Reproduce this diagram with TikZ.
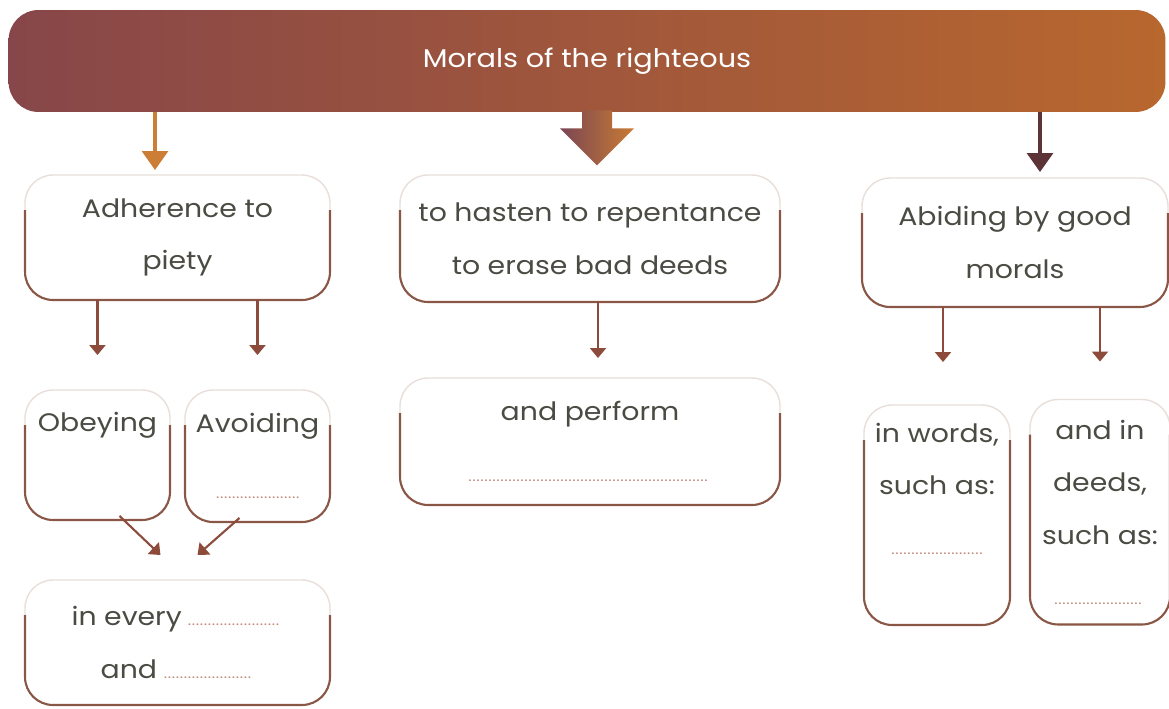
\documentclass[tikz,border=0pt]{standalone}
\usepackage{fontspec}
\setmainfont[FakeStretch=1.12]{Poppins}
\usetikzlibrary{calc,arrows.meta,positioning}

\definecolor{hdL}{HTML}{874649}
\definecolor{hdR}{HTML}{B8672E}
\definecolor{txt}{HTML}{4B4B43}
\definecolor{rim}{HTML}{8A5646}
\definecolor{rimL}{HTML}{E8DFDA}
\definecolor{arr}{HTML}{8C4B3B}
\definecolor{arrO}{HTML}{CC7E36}
\definecolor{arrD}{HTML}{5C3337}
\definecolor{bigL}{HTML}{7A4654}
\definecolor{bigR}{HTML}{C97B33}
\definecolor{dots}{HTML}{C0877A}

% a dotted blank to fill in
\newcommand{\fillin}[1]{{\color{dots}\fontsize{8}{8}\selectfont\leaders\hbox to 0.08cm{\hss.\hss}\hskip #1}}

\begin{document}
\begin{tikzpicture}[x=0.02cm, y=-0.02cm,
    head/.style={rounded corners=0.6cm, left color=hdL, right color=hdR,
      minimum width=23.14cm, minimum height=2.04cm, text=white,
      font=\fontsize{14.6}{30}\selectfont},
    card/.style={draw=rimL, line width=0.8pt, fill=white, rounded corners=0.56cm,
      outer sep=0pt, inner sep=0pt, align=center, text=txt,
      font=\fontsize{14.4}{30}\selectfont},
    rimline/.style={draw=rim, line width=1.2pt, rounded corners=0.56cm},
    link/.style={draw=arr, line width=1.2pt, -{Triangle[width=0.32cm,length=0.2cm]}},
    toplink/.style={line width=1.8pt, -{Triangle[width=0.52cm,length=0.38cm]}}]

	\useasboundingbox (0,0) rectangle (1169,709);

	%% Title bar
	\node[head] (head) at (587,61) {Morals of the righteous};

	%% First row
	\node[card, minimum width=6.1cm, minimum height=2.5cm] (adh) at (177.5,237.5)
	  {Adherence to\\piety};
	\node[card, minimum width=7.6cm, minimum height=2.54cm] (has) at (590,238.5)
	  {to hasten to repentance\\to erase bad deeds};
	\node[card, minimum width=6.12cm, minimum height=2.58cm] (abi) at (1015,242.5)
	  {Abiding by good\\morals};

	%% Second row
	\node[card, minimum width=2.9cm, minimum height=2.6cm] (obe) at (97.5,455)
	  {Obeying\\[8pt]\mbox{}};
	\node[card, minimum width=2.9cm, minimum height=2.64cm] (avo) at (257.5,456)
	  {Avoiding\\[8pt]\fillin{1.8cm}};
	\node[card, minimum width=7.6cm, minimum height=2.54cm] (per) at (590,441.5)
	  {and perform\\[5pt]\fillin{4.88cm}};
	\node[card, minimum width=2.92cm, minimum height=4.4cm] (wor) at (937,515)
	  {in words,\\such as:\\[4pt]\fillin{1.86cm}\\\mbox{}};
	\node[card, minimum width=2.8cm, minimum height=4.5cm] (dee) at (1100,512)
	  {and in\\deeds,\\such as:\\[4pt]\fillin{1.84cm}};

	%% Third row
	\node[card, minimum width=6.1cm, minimum height=2.5cm] (eve) at (177.5,642.5)
	  {in every\,\fillin{1.95cm}\\and\,\fillin{1.86cm}};

	%% darker rims on sides and bottom
	\foreach \n in {adh,has,abi,obe,avo,eve,per,wor,dee}
	  \draw[rimline] ([yshift=-0.7cm]\n.north west) -- (\n.south west)
	    -- (\n.south east) -- ([yshift=-0.7cm]\n.north east);

	%% Arrows from the title bar
	\draw[toplink, draw=arrO, fill=arrO, shorten >=0.1cm]
	  ([xshift=-0.45cm]adh.north |- head.south) -- ([xshift=-0.45cm]adh.north);
	\draw[toplink, draw=arrD, fill=arrD, shorten >=0.12cm]
	  ([xshift=0.5cm]abi.north |- head.south) -- ([xshift=0.5cm]abi.north);

	% big shaded arrow
	\coordinate (m) at ([xshift=0.14cm]has.north |- head.south);
	\shade[left color=bigL, right color=bigR] (m) ++(-15,-2) -- ++(0,18)
	  -- ++(-22,0) -- ++(37,37) -- ++(37,-37) -- ++(-22,0) -- ++(0,-18) -- cycle;

	%% Arrows between boxes
	\draw[link, shorten >=0.7cm] (adh.south -| obe) -- (obe.north);
	\draw[link, shorten >=0.7cm] (adh.south -| avo) -- (avo.north);
	\draw[link, shorten >=0.4cm] ([xshift=0.16cm]has.south) -- ([xshift=0.16cm]per.north);
	\draw[link, shorten >=0.86cm] ([xshift=0.12cm]abi.south -| wor) -- ([xshift=0.12cm]wor.north);
	\draw[link, shorten >=0.76cm] (abi.south -| dee) -- (dee.north);
	\draw[link] ($(obe.south)+(22,-4)$) -- ($(eve.north)+(-17,-25)$);
	\draw[link] ($(avo.south)+(-18,-4)$) -- ($(eve.north)+(20,-25)$);
\end{tikzpicture}
\end{document}
